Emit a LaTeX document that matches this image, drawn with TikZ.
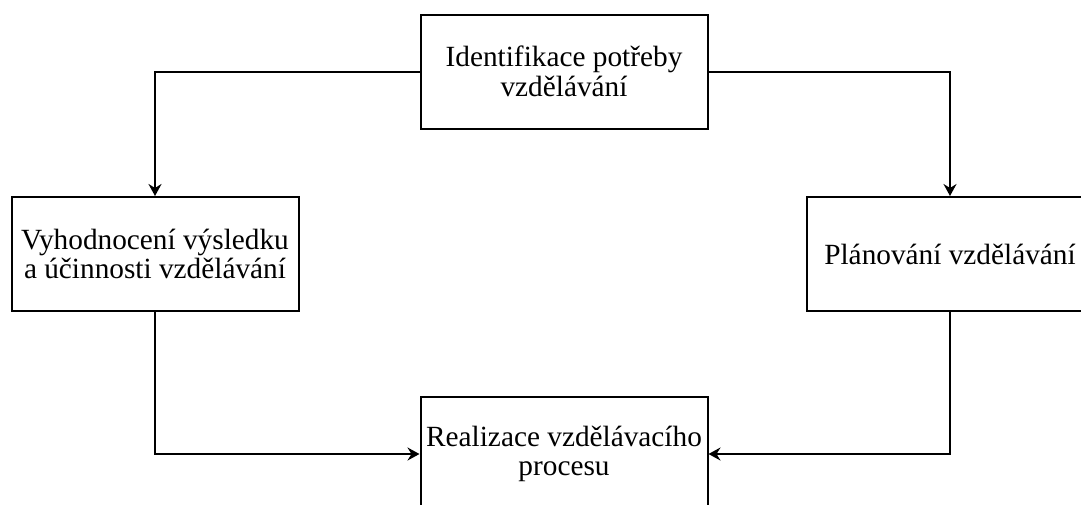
\documentclass[tikz,border=0pt]{standalone}
\usepackage{fontspec}
\setmainfont{Liberation Serif}
\usetikzlibrary{arrows.meta}
\begin{document}
\begin{tikzpicture}[x=1pt,y=-1pt]
\tikzset{
  stage/.style={draw, line width=2pt, minimum width=287pt, minimum height=114pt,
    inner sep=0pt, align=center, font=\fontsize{29.3}{29.5}\selectfont},
  flow/.style={line width=2pt, -{Stealth[length=12pt,width=13pt,inset=4pt]}}
}
\useasboundingbox (0,0) rectangle (1081,504);
% the four stages of the training cycle
\node[stage] (ident) at (564,71.5) {Identifikace potřeby\\vzdělávání};
\node[stage] (eval)  at (155,254)  {Vyhodnocení výsledku\\a účinnosti vzdělávání};
\node[stage] (plan)  at (950,254)  {Plánování vzdělávání};
\node[stage] (real)  at (564,454)  {Realizace vzdělávacího\\procesu};
% connectors between the stages
\draw[flow] (ident.west) -| (eval.north);
\draw[flow] (ident.east) -| (plan.north);
\draw[flow] (eval.south) |- (real.west);
\draw[flow] (plan.south) |- (real.east);
\end{tikzpicture}
\end{document}
